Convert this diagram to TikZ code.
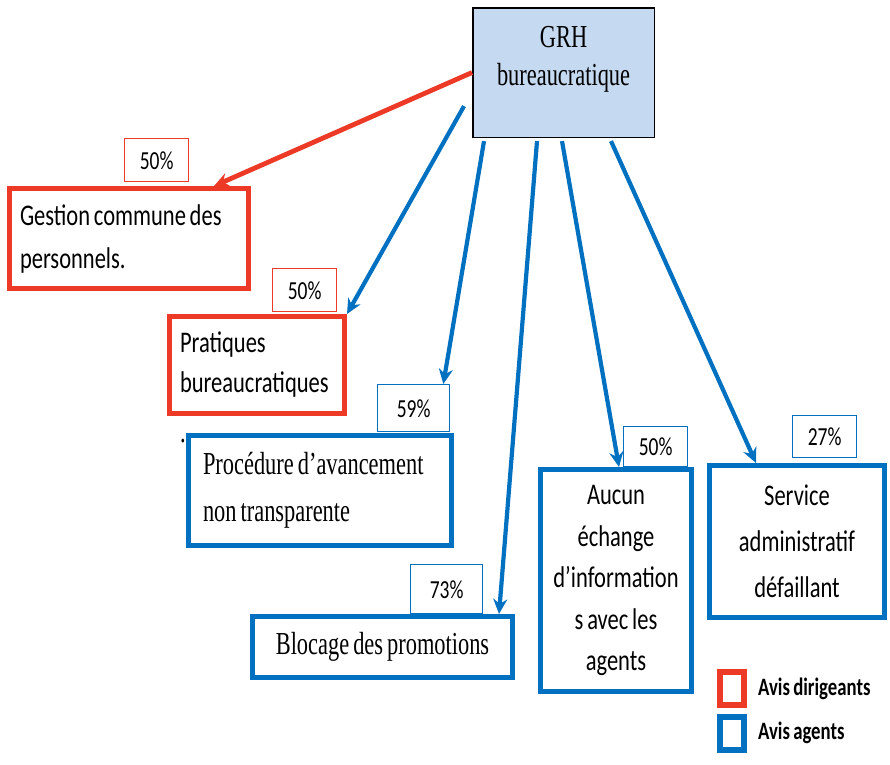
\documentclass[tikz,border=0pt]{standalone}
\usepackage{fontspec}
\setmainfont[FakeStretch=0.7, WordSpace=0.72]{Liberation Serif}
\newfontfamily\calibri[FakeStretch=0.75, WordSpace=0.75]{Carlito}
\usetikzlibrary{arrows.meta,positioning,calc}
\definecolor{rougeavis}{RGB}{236,58,38}
\definecolor{bleuavis}{RGB}{0,112,192}
\definecolor{bleugrh}{RGB}{197,217,240}

\begin{document}
\begin{tikzpicture}[x=1pt, y=-1pt, >={Stealth[length=15pt,width=14pt]}]

\tikzstyle{cadre} = [rectangle, anchor=north west, inner sep=0pt];
\tikzstyle{rouge} = [cadre, draw=rougeavis, line width=5pt];
\tikzstyle{bleu} = [cadre, draw=bleuavis, line width=5pt];
\tikzstyle{taux} = [cadre, line width=1.3pt, font=\calibri\fontsize{26}{28}\selectfont, text depth=-3pt];
\tikzstyle{sans} = [font=\calibri\fontsize{30}{43}\selectfont];
\tikzstyle{serif} = [font=\fontsize{32}{47}\selectfont];
\tikzstyle{fleche} = [->, line width=4.2pt];
\tikzstyle{legende} = [line width=6pt, minimum width=24pt, minimum height=33pt, inner sep=0pt];

\useasboundingbox (0,0) rectangle (890,764);

% Noeud central
\node (grh) [cadre, draw=black, line width=1.6pt, fill=bleugrh, minimum width=181.5pt, minimum height=129.5pt] at (472,7) {};
\node (grhtexte) [below=19pt of grh.north, inner sep=0pt, align=center, font=\fontsize{32}{38}\selectfont] {GRH\\bureaucratique};

% Avis dirigeants
\node (taux1) [taux, draw=rougeavis, minimum width=64pt, minimum height=43pt] at (124,138) {50\%};
\node (gestion) [rouge, minimum width=239pt, minimum height=100pt, text width=218pt, align=flush left, sans] at (7,186) {Gestion commune des\\personnels.};
\node (taux2) [taux, draw=rougeavis, minimum width=64pt, minimum height=43pt] at (272,268) {50\%};
\node (pratiques) [rouge, minimum width=175pt, minimum height=97pt, text width=154pt, align=flush left, font=\calibri\fontsize{30}{40}\selectfont] at (167,314) {Pratiques\\bureaucratiques};

% Avis agents
\node (taux3) [taux, draw=bleuavis, minimum width=72pt, minimum height=47pt] at (377,384) {59\%};
\node (procedure) [bleu, minimum width=263pt, minimum height=110pt, text width=234pt, align=flush left, serif] at (186,433) {Procédure d’avancement\\non transparente};
\node (point) [inner sep=0pt, serif] at (183,441) {.};
\node (taux4) [taux, draw=bleuavis, minimum width=72pt, minimum height=49pt] at (410,564) {73\%};
\node (blocage) [bleu, minimum width=260pt, minimum height=61pt, align=center, serif] at (250,614) {Blocage des promotions};
\node (taux5) [taux, draw=bleuavis, minimum width=64pt, minimum height=40pt] at (623,426) {50\%};
\node (aucun) [bleu, minimum width=151pt, minimum height=222pt, align=center, font=\calibri\fontsize{30}{41.5}\selectfont] at (538,467) {Aucun\\échange\\d’information\\s avec les\\agents};
\node (taux6) [taux, draw=bleuavis, minimum width=64pt, minimum height=42pt] at (792,415) {27\%};
\node (service) [bleu, minimum width=175pt, minimum height=152pt, align=center, font=\calibri\fontsize{30}{46}\selectfont] at (707,463) {Service\\administratif\\défaillant};

% Legende
\node (legrouge) [legende, draw=rougeavis] at (732,688.5) {};
\node (legbleu) [legende, draw=bleuavis] at (732,733) {};
\node (txtrouge) [right=11pt of legrouge, inner sep=0pt, font=\calibri\bfseries\fontsize{25}{28}\selectfont] {Avis dirigeants};
\node (txtbleu) [right=11pt of legbleu, inner sep=0pt, font=\calibri\bfseries\fontsize{25}{28}\selectfont] {Avis agents};

% Fleches
\draw[fleche, rougeavis, line width=4.8pt] (grh.west) -- ([xshift=-37pt]gestion.north east);
\draw[fleche, bleuavis] ([xshift=-8pt,yshift=32pt]grh.south west) -- (pratiques.north east);
\draw[fleche, bleuavis] ([xshift=12pt,yshift=-3pt]grh.south west) -- ([xshift=-7pt]taux3.north east);
\draw[fleche, bleuavis] ([xshift=65pt,yshift=-3pt]grh.south west) -- ([xshift=-16pt]blocage.north east);
\draw[fleche, bleuavis] ([xshift=90pt,yshift=-3pt]grh.south west) -- ([xshift=3pt]aucun.north);
\draw[fleche, bleuavis] ([xshift=139pt,yshift=-3pt]grh.south west) -- ([xshift=49pt]service.north west);

\end{tikzpicture}
\end{document}
